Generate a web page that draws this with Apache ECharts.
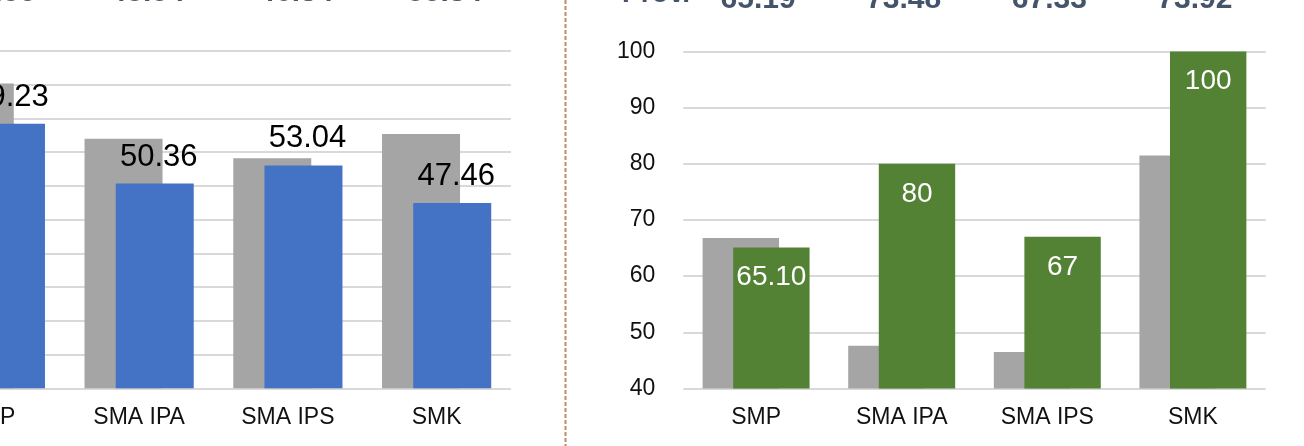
<!DOCTYPE html>
<html><head><meta charset="utf-8">
<script src="https://cdn.jsdelivr.net/npm/echarts@6/dist/echarts.min.js"></script>
<style>html,body{margin:0;padding:0;background:#fff;overflow:hidden}#c{width:1304px;height:446px}</style>
</head><body><div id="c"></div>
<script>
const categories = ['SMP', 'SMA IPA', 'SMA IPS', 'SMK'];
// left panel (partly outside the picture)
const leftPrev = [65.2, 57.0, 54.1, 57.7];
const leftCurr = [59.23, 50.36, 53.04, 47.46];
const leftProv = ['52.55', '48.54', '46.34', '55.34'];
// right panel
const rightPrev = [66.8, 47.6, 46.5, 81.5];
const rightCurr = [65.10, 80, 67, 100];
const rightCurrLabels = ['65.10', '80', '67', '100'];
const rightProv = ['65.19', '73.48', '67.33', '73.92'];
const provTitle = 'Prov.';

const FONT = '"Liberation Sans", Arial, sans-serif';
const GRAY = '#a5a5a5', BLUE = '#4472c4', GREEN = '#548235';
const GRID_LINE = { show: true, lineStyle: { color: '#d9d9d9', width: 2 } };

const chart = echarts.init(document.getElementById('c'), null, { renderer: 'canvas' });

const catAxis = (gi) => ({
  type: 'category', gridIndex: gi, data: categories,
  axisLine: { show: false }, axisTick: { show: false },
  axisLabel: { fontFamily: FONT, fontSize: 23, color: '#111', margin: 18, lineHeight: 23 }
});
const topAxis = (gi, data, margin, pad) => ({
  type: 'category', gridIndex: gi, position: 'top', data: data,
  axisLine: { show: false }, axisTick: { show: false },
  axisLabel: { fontFamily: FONT, fontSize: 30, fontWeight: 'bold', color: '#44546a', margin: margin, lineHeight: 30, padding: pad }
});

const option = {
  animation: false,
  backgroundColor: '#fff',
  textStyle: { fontFamily: FONT },
  grid: [
    { left: -84, top: 51, width: 595, height: 337.3, containLabel: false, outerBoundsMode: 'none' },
    { left: 683.3, top: 51.6, width: 582.4, height: 336.8, containLabel: false, outerBoundsMode: 'none' }
  ],
  xAxis: [
    catAxis(0), catAxis(1),
    topAxis(0, leftProv, 43, [0, 0, 0, 16]),
    topAxis(1, rightProv, 37, [0, 0, 0, 4])
  ],
  yAxis: [
    { type: 'value', gridIndex: 0, min: 20, max: 70, interval: 5,
      axisLabel: { show: false }, axisLine: { show: false }, axisTick: { show: false }, splitLine: GRID_LINE },
    { type: 'value', gridIndex: 1, min: 40, max: 100, interval: 10,
      axisLine: { show: false }, axisTick: { show: false }, splitLine: GRID_LINE,
      axisLabel: { fontFamily: FONT, fontSize: 23, color: '#111', margin: 28 } }
  ],
  series: [
    { type: 'bar', xAxisIndex: 0, yAxisIndex: 0, data: leftPrev, barWidth: 78, barGap: '-60%',
      itemStyle: { color: GRAY }, z: 2 },
    { type: 'bar', xAxisIndex: 0, yAxisIndex: 0, data: leftCurr, barWidth: 78, barGap: '-60%',
      itemStyle: { color: BLUE }, z: 3,
      label: { show: true, position: 'top', distance: 11, offset: [4, 0], fontFamily: FONT, fontSize: 31, lineHeight: 31, color: '#000',
        formatter: p => p.value.toFixed(2) } },
    { type: 'bar', xAxisIndex: 1, yAxisIndex: 1, data: rightPrev, barWidth: 76.4, barGap: '-60%',
      itemStyle: { color: GRAY }, z: 2 },
    { type: 'bar', xAxisIndex: 1, yAxisIndex: 1, data: rightCurr, barWidth: 76.4, barGap: '-60%',
      itemStyle: { color: GREEN }, z: 3,
      label: { show: true, position: 'insideTop', distance: 16, fontFamily: FONT, fontSize: 28, lineHeight: 28, color: '#fff',
        formatter: p => rightCurrLabels[p.dataIndex] } }
  ],
  graphic: [
    { type: 'line', shape: { x1: 565.5, y1: 0, x2: 565.5, y2: 446 },
      style: { stroke: '#c08a62', lineWidth: 2, lineDash: [4, 2] } },
    { type: 'text', x: 690, y: 8, style: { text: provTitle, fontFamily: FONT, fontSize: 28, fontWeight: 'bold', fill: '#44546a',
      align: 'right', verticalAlign: 'bottom' } }
  ]
};
chart.setOption(option);
</script></body></html>
